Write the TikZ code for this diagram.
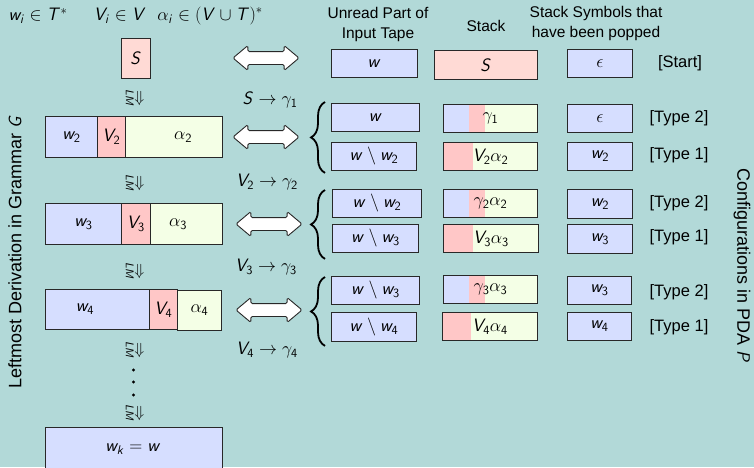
\RequirePackage{fix-cm}
\documentclass[tikz,border=0pt]{standalone}
\usepackage[no-math]{fontspec}
\setsansfont{Liberation Sans}
\usetikzlibrary{shapes.arrows,decorations.pathreplacing}

% sans-serif slanted letters and upright digits in formulas
\DeclareSymbolFont{sfit}{OT1}{cmss}{m}{sl}
\DeclareSymbolFont{sfup}{OT1}{cmss}{m}{n}
\DeclareMathSymbol{w}{\mathalpha}{sfit}{`w}
\DeclareMathSymbol{k}{\mathalpha}{sfit}{`k}
\DeclareMathSymbol{i}{\mathalpha}{sfit}{`i}
\DeclareMathSymbol{V}{\mathalpha}{sfit}{`V}
\DeclareMathSymbol{S}{\mathalpha}{sfit}{`S}
\DeclareMathSymbol{T}{\mathalpha}{sfit}{`T}
\DeclareMathSymbol{G}{\mathalpha}{sfit}{`G}
\DeclareMathSymbol{P}{\mathalpha}{sfit}{`P}
\DeclareMathSymbol{L}{\mathalpha}{sfit}{`L}
\DeclareMathSymbol{M}{\mathalpha}{sfit}{`M}
\DeclareMathSymbol{1}{\mathalpha}{sfup}{`1}
\DeclareMathSymbol{2}{\mathalpha}{sfup}{`2}
\DeclareMathSymbol{3}{\mathalpha}{sfup}{`3}
\DeclareMathSymbol{4}{\mathalpha}{sfup}{`4}

\definecolor{bgc}{RGB}{178,217,216}
\definecolor{blu}{RGB}{214,222,255}
\definecolor{pnk}{RGB}{255,199,199}
\definecolor{pnkL}{RGB}{255,218,213}
\definecolor{yel}{RGB}{244,255,230}
\definecolor{bordc}{RGB}{40,40,40}

\tikzset{
  every node/.style={font=\sffamily\fontsize{16}{19}\selectfont},
  mth/.style={font=\sffamily\fontsize{18}{21}\selectfont},
  cellb/.style={mth, draw=bordc, line width=0.9pt, inner sep=0pt},
  stackpart/.style 2 args={path picture={
      \fill[blu] (path picture bounding box.north west) rectangle
                 ([xshift=#1]path picture bounding box.south west);
      \fill[pnk] ([xshift=#1]path picture bounding box.north west) rectangle
                 ([xshift=#1+#2]path picture bounding box.south west);}},
  dblarrow/.style={double arrow, draw=bordc, fill=white, line width=0.9pt,
      minimum height=66pt, inner xsep=0pt, inner ysep=6pt,
      double arrow head extend=6pt, double arrow tip angle=80,
      rounded corners=1.5pt},
  derive/.style={rotate=-90, inner sep=0pt},
  tag/.style={font=\sffamily\fontsize{16.5}{19}\selectfont},
  head/.style={align=center, font=\sffamily\fontsize{15.5}{20}\selectfont},
  side/.style={font=\sffamily\fontsize{18}{21}\selectfont},
  bracepath/.style={decorate, decoration={brace, amplitude=14pt}, line width=1.8pt}
}

% box from (x1,y1) to (x2,y2)
\newcommand{\cellbox}[8][]{\node[cellb, fill=#7, minimum width={#4-#2},
  minimum height={#5-#3}, anchor=north west, #1] (#6) at (#2,#3) {#8};}
% one leftmost derivation step
\newcommand{\lmstep}{$\mathop{\Rightarrow}\limits_{LM}$}

\begin{document}
\begin{tikzpicture}[x=1pt,y=-1pt]
\fill[bgc] (0,0) rectangle (754,467);
\useasboundingbox (0,0) rectangle (754,467);
\clip (0,0) rectangle (754,467);

% notation
\node[mth] (nw) at (38,16) {$w_i \in T^*$};
\node[mth] (nv) at (120,16) {$V_i \in V$};
\node[mth] (na) at (210,16) {$\alpha_i \in (V \cup T)^*$};

% leftmost derivation
\cellbox{121}{38}{150}{78}{s0}{pnkL}{$S$}
\cellbox{45}{116}{97}{157}{w2}{blu}{$w_2$}
\cellbox{97}{116}{125}{157}{v2}{pnk}{$V_2$}
\cellbox{125}{116}{222}{157}{a2}{yel}{}
\node[mth] (a2t) at (183,137) {$\alpha_2$};
\cellbox{45}{203}{121}{244}{w3}{blu}{$w_3$}
\cellbox{121}{203}{150}{244}{v3}{pnk}{$V_3$}
\cellbox{150}{203}{222}{244}{a3}{yel}{}
\node[mth] (a3t) at (178,224) {$\alpha_3$};
\cellbox{45}{289}{149}{329}{w4}{blu}{}
\node[mth] (w4t) at (85,309) {$w_4$};
\cellbox{149}{289}{177}{329}{v4}{pnk}{$V_4$}
\cellbox{177}{290}{221}{330}{a4}{yel}{$\alpha_4$}
\cellbox{45}{427}{222}{472}{wk}{blu}{}
\node[mth] (wkt) at (133,449) {$w_k = w$};

\node[derive] (d1) at (133,98) {\lmstep};
\node[derive] (d2) at (133,183) {\lmstep};
\node[derive] (d3) at (133,271) {\lmstep};
\node[derive] (d4) at (133,350) {\lmstep};
\node[derive] (d5) at (133,413) {\lmstep};
\foreach \yy in {370,382,395} \fill[black] (133.5,\yy) circle (1.6);

% correspondence arrows and rules
\node[dblarrow] (ar0) at (266,58) {};
\node[dblarrow] (ar1) at (266,137) {};
\node[dblarrow] (ar2) at (269,224) {};
\node[dblarrow] (ar3) at (269,310) {};
\node[mth] (r1) at (270,100) {$S \to \gamma_1$};
\node[mth] (r2) at (267,182) {$V_2 \to \gamma_2$};
\node[mth] (r3) at (266,267) {$V_3 \to \gamma_3$};
\node[mth] (r4) at (267,350) {$V_4 \to \gamma_4$};

% column heads
\node[head] (h1) at (378,24) {Unread Part of\\Input Tape};
\node[head] (h2) at (486,26) {Stack};
\node[head] (h3) at (596,23) {Stack Symbols that\\have been popped};

% unread input
\cellbox{331}{49}{417}{77}{t0}{blu}{$w$}
\cellbox{331}{103}{419}{131}{t1a}{blu}{$w$}
\cellbox{331}{142}{416}{170}{t1b}{blu}{$w \setminus w_2$}
\cellbox{332}{189}{421}{217}{t2a}{blu}{$w \setminus w_2$}
\cellbox{332}{224}{418}{252}{t2b}{blu}{$w \setminus w_3$}
\cellbox{331}{276}{419}{304}{t3a}{blu}{$w \setminus w_3$}
\cellbox{331}{312}{416}{341}{t3b}{blu}{$w \setminus w_4$}

% stack
\cellbox{434}{50}{537}{79}{k0}{pnkL}{$S$}
\cellbox[stackpart={26}{16}]{443}{104}{537}{132}{k1a}{yel}{$\gamma_1$}
\cellbox[stackpart={0}{30}]{443}{142}{537}{170}{k1b}{yel}{$V_2\alpha_2$}
\cellbox[stackpart={26}{16}]{443}{189}{537}{217}{k2a}{yel}{$\gamma_2\alpha_2$}
\cellbox[stackpart={0}{30}]{443}{224}{538}{252}{k2b}{yel}{$V_3\alpha_3$}
\cellbox[stackpart={26}{16}]{443}{275}{537}{303}{k3a}{yel}{$\gamma_3\alpha_3$}
\cellbox[stackpart={0}{29}]{442}{312}{537}{340}{k3b}{yel}{$V_4\alpha_4$}

% popped symbols
\cellbox{567}{49}{632}{77}{p0}{blu}{$\epsilon$}
\cellbox{567}{104}{632}{132}{p1a}{blu}{$\epsilon$}
\cellbox{567}{142}{632}{170}{p1b}{blu}{$w_2$}
\cellbox{567}{189}{632}{218}{p2a}{blu}{$w_2$}
\cellbox{567}{224}{632}{253}{p2b}{blu}{$w_3$}
\cellbox{567}{276}{631}{304}{p3a}{blu}{$w_3$}
\cellbox{567}{312}{631}{340}{p3b}{blu}{$w_4$}

% move types
\node[tag] (g0) at (680,63) {[Start]};
\node[tag] (g1a) at (679,118) {[Type 2]};
\node[tag] (g1b) at (679,155) {[Type 1]};
\node[tag] (g2a) at (679,203) {[Type 2]};
\node[tag] (g2b) at (679,237) {[Type 1]};
\node[tag] (g3a) at (679,292) {[Type 2]};
\node[tag] (g3b) at (679,327) {[Type 1]};

% braces grouping each pair of configurations
\draw[bracepath] ([shift={(-6,2)}]t1b.south west) -- ([shift={(-6,-1)}]t1a.north west);
\draw[bracepath] ([shift={(-7,6)}]t2b.south west) -- ([shift={(-7,1)}]t2a.north west);
\draw[bracepath] ([shift={(-6,4)}]t3b.south west) -- ([shift={(-6,1)}]t3a.north west);

% side titles
\node[side, rotate=90] (lt) at (15,252) {Leftmost Derivation in Grammar $G$};
\node[side, rotate=-90] (rt) at (742,266) {Configurations in PDA $P$};
\end{tikzpicture}
\end{document}
